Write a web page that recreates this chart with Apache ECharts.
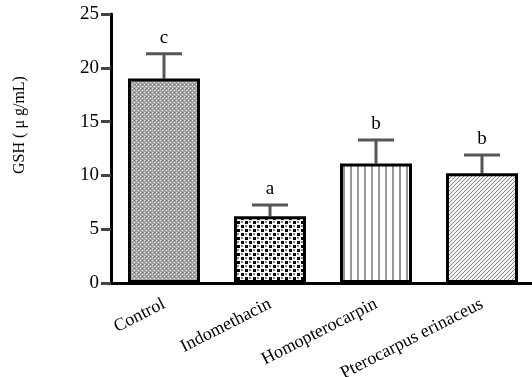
<!DOCTYPE html>
<html><head><meta charset="utf-8">
<script src="https://cdn.jsdelivr.net/npm/echarts@6/dist/echarts.min.js"></script>
<style>html,body{margin:0;padding:0;background:#fff}#c{width:532px;height:377px}</style>
</head><body><div id="c"></div>
<script>
const categories = ['Control', 'Indomethacin', 'Homopterocarpin', 'Pterocarpus erinaceus'];
const values = [19.0, 6.2, 11.1, 10.2];
const errors = [2.3, 1.05, 2.2, 1.7];
const letters = ['c', 'a', 'b', 'b'];
const yTicks = [0, 5, 10, 15, 20, 25];

function makePattern(w, h, draw) {
  const cv = document.createElement('canvas');
  cv.width = w; cv.height = h;
  const ctx = cv.getContext('2d');
  draw(ctx);
  return { image: cv, repeat: 'repeat' };
}
const patterns = [
  makePattern(4, 4, ctx => {
    ctx.fillStyle = '#a4a4a4'; ctx.fillRect(0, 0, 4, 4);
    ctx.fillStyle = '#eeeeee'; ctx.fillRect(0, 0, 1, 1); ctx.fillRect(2, 2, 1, 1);
    ctx.fillStyle = '#666'; ctx.fillRect(2, 0, 1, 1);
  }),
  makePattern(8, 8, ctx => {
    ctx.fillStyle = '#fff'; ctx.fillRect(0, 0, 8, 8);
    ctx.fillStyle = '#000'; ctx.fillRect(1, 1, 3, 3); ctx.fillRect(5, 5, 3, 3);
    ctx.fillStyle = '#888'; ctx.fillRect(5, 1, 2, 2); ctx.fillRect(1, 5, 2, 2);
  }),
  makePattern(7, 7, ctx => {
    ctx.fillStyle = '#fff'; ctx.fillRect(0, 0, 7, 7);
    ctx.fillStyle = '#999'; ctx.fillRect(0, 0, 2, 7);
  }),
  makePattern(4, 4, ctx => {
    ctx.fillStyle = '#f2f2f2'; ctx.fillRect(0, 0, 4, 4);
    ctx.fillStyle = '#8a8a8a';
    ctx.fillRect(3, 0, 1, 1); ctx.fillRect(2, 1, 1, 1); ctx.fillRect(1, 2, 1, 1); ctx.fillRect(0, 3, 1, 1);
  })
];

const chart = echarts.init(document.getElementById('c'));
const serif = 'Liberation Serif';
chart.setOption({
  animation: false,
  grid: { left: 111, top: 14, height: 269, width: 424, containLabel: false, outerBoundsMode: 'none' },
  xAxis: {
    type: 'category', data: categories,
    axisLine: { lineStyle: { color: '#000', width: 3 } },
    axisTick: { alignWithLabel: true, length: 9, lineStyle: { color: '#333', width: 3 } },
    axisLabel: { rotate: 27, margin: 20, fontFamily: serif, fontSize: 18, color: '#000', interval: 0 }
  },
  yAxis: {
    type: 'value', min: 0, max: 25, interval: 5,
    splitLine: { show: false },
    axisLine: { show: true, lineStyle: { color: '#000', width: 3 } },
    axisTick: { show: true, length: 10, lineStyle: { color: '#444', width: 3 } },
    axisLabel: { margin: 12, fontFamily: serif, fontSize: 19, color: '#000',
      formatter: v => yTicks.includes(v) ? String(v) : '' }
  },
  graphic: [{
    type: 'text', x: 20, y: 125, rotation: Math.PI / 2,
    style: { text: 'GSH ( μ g/mL)', fontFamily: serif, fontSize: 16, fill: '#000',
      align: 'center', verticalAlign: 'middle' }
  }],
  series: [
    {
      type: 'bar', barWidth: 72,
      data: values.map((v, i) => ({ value: v, itemStyle: { color: patterns[i] } })),
      itemStyle: { borderColor: '#000', borderWidth: 3 }
    },
    {
      type: 'custom',
      data: values.map((v, i) => [i, v, errors[i]]),
      renderItem: (params, api) => {
        const i = api.value(0);
        const base = api.coord([i, api.value(1)]);
        const top = api.coord([i, api.value(1) + api.value(2)]);
        const half = 18;
        return {
          type: 'group',
          children: [
            { type: 'line', shape: { x1: base[0], y1: base[1], x2: top[0], y2: top[1] },
              style: { stroke: '#555', lineWidth: 3 } },
            { type: 'line', shape: { x1: top[0] - half, y1: top[1], x2: top[0] + half, y2: top[1] },
              style: { stroke: '#555', lineWidth: 3 } },
            { type: 'text', x: top[0], y: top[1] - 6,
              style: { text: letters[params.dataIndex], fontFamily: serif, fontSize: 19, fill: '#000',
                align: 'center', verticalAlign: 'bottom' } }
          ]
        };
      },
      z: 1
    }
  ]
});
</script></body></html>
